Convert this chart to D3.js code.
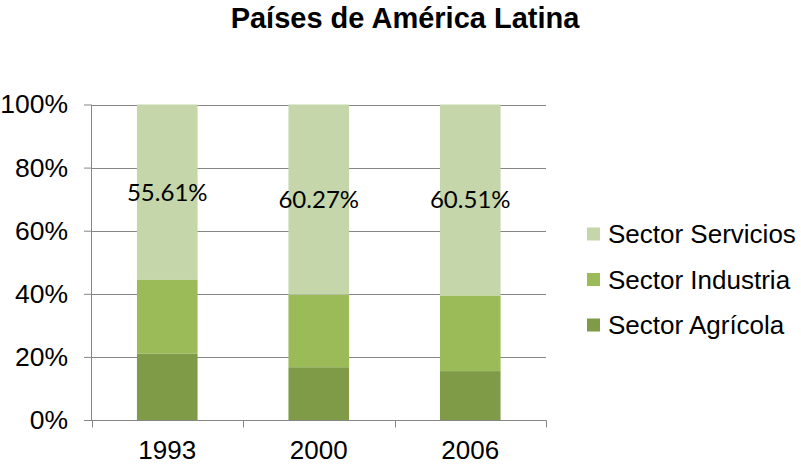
<!DOCTYPE html>
<meta charset="utf-8">
<style>
    body { margin: 0; background: #fff; }
    text { font-family: "Liberation Sans", Arial, sans-serif; fill: #000; }
    .grid line { stroke: #868686; stroke-width: 1; }
    .axis path, .axis line { stroke: #868686; stroke-width: 1; }
    .label { font-family: Lato, "Open Sans", sans-serif; font-size: 24px; }
</style>
<svg width="801" height="465"></svg>
<script src="https://cdnjs.cloudflare.com/ajax/libs/d3/7.8.5/d3.min.js"></script>
<script>
    const years = ["1993", "2000", "2006"];
    const agricola = [21.0, 16.73, 15.5];
    const industria = [23.39, 23.0, 23.99];
    const servicios = [55.61, 60.27, 60.51];
    const yTicks = [0, 20, 40, 60, 80, 100];
    const seriesNames = ["Sector Agrícola", "Sector Industria", "Sector Servicios"];
    const colors = ["#7F9B48", "#9BBB59", "#C4D6AA"];

    const svg = d3.select("svg");
    const plotLeft = 91.5, plotRight = 546, plotTop = 104.5, plotBottom = 420;

    const x = d3.scaleBand()
        .domain(years)
        .range([plotLeft, plotRight])
        .paddingInner(0.6)
        .paddingOuter(0.3);

    const y = d3.scaleLinear().domain([0, 100]).range([plotBottom, plotTop]);

    // title
    svg.append("text")
        .attr("x", 405)
        .attr("y", 28)
        .attr("text-anchor", "middle")
        .style("font-weight", "bold")
        .style("font-size", "29px")
        .text("Países de América Latina");

    // gridlines
    svg.append("g")
        .attr("class", "grid")
        .selectAll("line")
        .data(yTicks.filter(d => d > 0))
        .enter().append("line")
        .attr("x1", plotLeft)
        .attr("x2", plotRight)
        .attr("y1", d => Math.round(y(d)) + 0.5)
        .attr("y2", d => Math.round(y(d)) + 0.5);

    // stacked bars
    const table = years.map((yr, i) => ({
        year: yr,
        agricola: agricola[i],
        industria: industria[i],
        servicios: servicios[i]
    }));
    const stack = d3.stack().keys(["agricola", "industria", "servicios"]);
    const layers = stack(table);

    svg.append("g")
        .selectAll("g")
        .data(layers)
        .enter().append("g")
        .attr("fill", (d, i) => colors[i])
        .selectAll("rect")
        .data(d => d)
        .enter().append("rect")
        .attr("x", d => x(d.data.year))
        .attr("width", x.bandwidth())
        .attr("y", d => y(d[1]))
        .attr("height", d => y(d[0]) - y(d[1]));

    // labels on servicios
    svg.append("g")
        .selectAll("text")
        .data(layers[2])
        .enter().append("text")
        .attr("class", "label")
        .attr("x", d => x(d.data.year) + x.bandwidth() / 2)
        .attr("y", d => y((d[0] + d[1]) / 2))
        .attr("dy", "0.35em")
        .attr("text-anchor", "middle")
        .text(d => d.data.servicios.toFixed(2) + "%");

    // y axis
    const yAxis = svg.append("g")
        .attr("class", "axis")
        .attr("transform", "translate(" + (plotLeft - 0.5) + ",0)")
        .call(d3.axisLeft(y).tickValues(yTicks).tickFormat(d => d + "%").tickSize(7).tickSizeOuter(0).tickPadding(16));
    yAxis.selectAll("text").style("font-size", "26.5px");
    yAxis.select(".domain").attr("d", "M0.5," + plotTop + "V" + (plotBottom + 0.5));

    // x axis with tick marks at category boundaries
    const xg = svg.append("g")
        .attr("class", "axis")
        .attr("transform", "translate(0," + (plotBottom + 0.5) + ")");
    xg.append("line")
        .attr("x1", plotLeft - 7).attr("x2", plotRight + 0.5)
        .attr("y1", 0).attr("y2", 0);
    const bounds = years.map(d => x(d) - x.step() * 0.3).concat([plotRight]);
    xg.selectAll("line.tk")
        .data(bounds)
        .enter().append("line")
        .attr("class", "tk")
        .attr("x1", d => Math.round(d) + 0.5)
        .attr("x2", d => Math.round(d) + 0.5)
        .attr("y1", 0).attr("y2", 7);
    xg.selectAll("text")
        .data(years)
        .enter().append("text")
        .attr("x", d => x(d) + x.bandwidth() / 2)
        .attr("y", 38)
        .attr("text-anchor", "middle")
        .style("font-size", "26px")
        .text(d => d);

    // legend
    const legend = svg.append("g")
        .selectAll("g")
        .data([2, 1, 0])
        .enter().append("g")
        .attr("transform", (d, i) => "translate(587," + (234 + i * 45.5) + ")");
    legend.append("rect")
        .attr("x", 0).attr("y", -6.5)
        .attr("width", 13).attr("height", 13)
        .attr("fill", d => colors[d]);
    legend.append("text")
        .attr("x", 21)
        .attr("y", 0)
        .attr("dy", "0.35em")
        .style("font-size", "26px")
        .text(d => seriesNames[d]);
</script>
